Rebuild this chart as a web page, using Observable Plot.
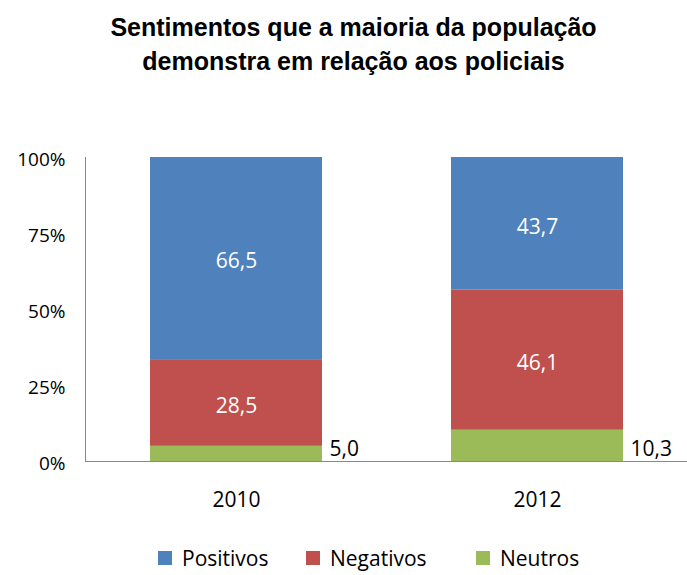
<!DOCTYPE html>
<html>
<head>
<meta charset="utf-8">
<script src="https://cdn.jsdelivr.net/npm/d3@7"></script>
<script src="https://cdn.jsdelivr.net/npm/@observablehq/plot@0.6"></script>
<style>
  body { margin: 0; background: #fff; width: 687px; height: 575px; overflow: hidden; position: relative; }
  #title { font-family: "Liberation Sans", Arial, sans-serif; font-weight: bold; font-size: 25px;
           line-height: 34px; text-align: center; padding-top: 10px; padding-left: 20px; height: 96px; box-sizing: border-box; color: #000; }
  #legend { position: absolute; left: 0; top: 544px; width: 687px; height: 30px;
            font-family: "Open Sans", sans-serif; font-size: 21px; color: #000; }
  .item { position: absolute; top: 0; display: flex; align-items: center; height: 28px; }
  .sw { width: 14px; height: 14px; margin-right: 10px; }
</style>
</head>
<body>
<div id="title">Sentimentos que a maioria da população<br>demonstra em relação aos policiais</div>
<div id="chart"></div>
<div id="legend"></div>
<script>
const years = ["2010", "2012"];
const series = ["Neutros", "Negativos", "Positivos"];
const positivos = [66.5, 43.7];
const negativos = [28.5, 46.1];
const neutros = [5.0, 10.3];
const yTicks = [0, 0.25, 0.5, 0.75, 1];
const legendOrder = ["Positivos", "Negativos", "Neutros"];
const colors = {Positivos: "#4f81bd", Negativos: "#c0504d", Neutros: "#9bbb59"};

const valuesBySeries = {Neutros: neutros, Negativos: negativos, Positivos: positivos};
const data = [];
years.forEach((yr, i) => {
  series.forEach(s => data.push({year: yr, series: s, value: valuesBySeries[s][i]}));
});
const fmt = v => v.toFixed(1).replace(".", ",");
const font = "Open Sans, sans-serif";
const stackOpts = {offset: "normalize", order: series};

const chart = Plot.plot({
  width: 687,
  height: 424,
  marginTop: 61,
  marginBottom: 59,
  marginLeft: 85,
  marginRight: 0,
  style: {fontFamily: font, fontSize: "19px", color: "#000", background: "#fff"},
  x: {domain: years, paddingInner: 0.43, paddingOuter: 0.212, label: null},
  y: {domain: [0, 1], label: null},
  color: {domain: series, range: series.map(s => colors[s])},
  marks: [
    Plot.barY(data, Plot.stackY(stackOpts, {x: "year", y: "value", fill: "series"})),
    Plot.text(data, Plot.stackY(stackOpts, {
      x: "year", y: "value", z: "series",
      text: d => d.series !== "Neutros" ? fmt(d.value) : "",
      fill: "#fff", fontSize: 21, dy: 3
    })),
    Plot.text(data, Plot.stackY1(stackOpts, {
      x: "year", y: "value", z: "series",
      text: d => d.series === "Neutros" ? fmt(d.value) : "",
      fill: "#000", fontSize: 21, textAnchor: "start", dx: 93, dy: -12
    })),
    Plot.ruleY([0], {stroke: "#888", strokeWidth: 1}),
    Plot.frame({anchor: "left", stroke: "#888"}),
    Plot.axisY({ticks: yTicks, tickFormat: d => Math.round(d * 100) + "%", tickSize: 0, tickPadding: 20, fontSize: 19, dy: 2}),
    Plot.axisX({tickSize: 0, tickPadding: 31, fontSize: 21})
  ]
});
document.getElementById("chart").appendChild(chart);

const legendLeft = [158, 306, 476];
const legend = document.getElementById("legend");
legendOrder.forEach((s, i) => {
  const it = document.createElement("div");
  it.className = "item";
  it.style.left = legendLeft[i] + "px";
  const sw = document.createElement("div");
  sw.className = "sw";
  sw.style.background = colors[s];
  const t = document.createElement("span");
  t.textContent = s;
  it.appendChild(sw); it.appendChild(t);
  legend.appendChild(it);
});
</script>
</body>
</html>
